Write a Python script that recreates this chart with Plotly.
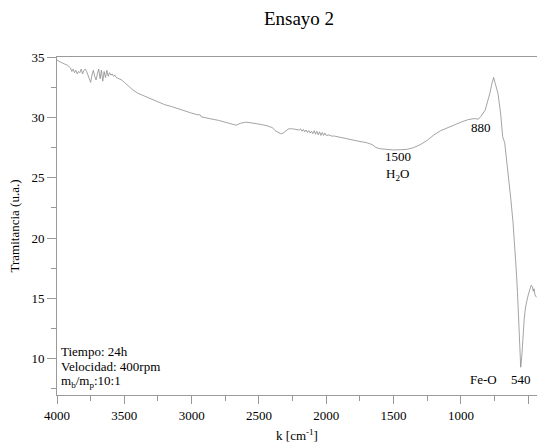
import plotly.graph_objects as go

# Wavenumber (cm^-1) and transmittance (u.a.)
k_values = [
    4000, 3980, 3960, 3940, 3920, 3900, 3890, 3880, 3870, 3860, 3850, 3840,
    3830, 3820, 3810, 3800, 3790, 3780, 3770, 3760, 3750, 3740, 3730, 3720,
    3710, 3700, 3690, 3680, 3670, 3660, 3650, 3640, 3630, 3620, 3610, 3600,
    3590, 3580, 3570, 3560, 3540, 3520, 3500, 3470, 3440, 3400, 3360, 3300,
    3250, 3200, 3150, 3100, 3050, 3000, 2950, 2940, 2930, 2900, 2870, 2800,
    2750, 2700, 2670, 2640, 2600, 2560, 2520, 2480, 2440, 2400, 2380, 2360,
    2340, 2320, 2300, 2280, 2250, 2220, 2200, 2190, 2180, 2170, 2160, 2150,
    2140, 2130, 2120, 2110, 2100, 2090, 2080, 2070, 2060, 2050, 2040, 2030,
    2020, 2010, 2000, 1980, 1960, 1940, 1900, 1850, 1800, 1750, 1700, 1660,
    1630, 1600, 1550, 1500, 1450, 1400, 1350, 1300, 1250, 1200, 1150, 1100,
    1050, 1000, 950, 900, 870, 850, 820, 800, 785, 770, 757, 745, 725, 705,
    690, 675, 650, 630, 613, 600, 590, 580, 570, 562, 556, 548, 539, 530,
    520, 510, 500, 489, 478, 470, 463, 457, 450, 440,
]
transmittance = [
    34.75, 34.6, 34.5, 34.4, 34.3, 34.1, 33.8, 34.0, 33.7, 33.9, 33.6, 33.8,
    33.7, 34.0, 33.6, 33.9, 34.0, 33.8, 33.5, 33.2, 32.9, 33.5, 33.9, 33.4,
    33.1, 33.6, 34.0, 33.2, 33.9, 33.0, 33.8, 33.3, 33.9, 33.4, 33.7, 33.5,
    33.6, 33.4, 33.5, 33.3, 33.2, 33.1, 32.9, 32.6, 32.3, 32.0, 31.8, 31.5,
    31.3, 31.05, 30.9, 30.7, 30.5, 30.35, 30.2, 30.25, 30.05, 30.0, 29.9, 29.75,
    29.6, 29.45, 29.35, 29.5, 29.6, 29.55, 29.5, 29.4, 29.3, 29.15, 28.9, 28.75,
    28.65, 28.7, 28.9, 29.05, 29.05, 29.0, 28.95, 29.05, 28.85, 29.0, 28.8, 28.95,
    28.75, 28.9, 28.7, 28.85, 28.65, 28.9, 28.6, 28.85, 28.55, 28.8, 28.5, 28.75,
    28.5, 28.7, 28.5, 28.55, 28.45, 28.45, 28.35, 28.2, 28.1, 28.0, 27.9, 27.75,
    27.5, 27.4, 27.35, 27.3, 27.32, 27.35, 27.5, 27.75, 28.1, 28.55, 28.9, 29.15,
    29.4, 29.6, 29.8, 29.9, 29.85, 30.1, 30.6, 31.3, 32.0, 32.8, 33.3, 32.8,
    32.0, 30.3, 28.4, 27.9, 25.5, 23.3, 21.3, 19.5, 17.5, 15.5, 12.5, 10.3,
    9.3, 10.2, 11.9, 13.3, 14.3, 14.9, 15.3, 15.7, 16.1, 16.0, 15.6, 15.8,
    15.3, 15.1,
]

x_ticks = [4000, 3500, 3000, 2500, 2000, 1500, 1000, 500]
y_ticks = [10, 15, 20, 25, 30, 35]

FONT = "Liberation Serif, Times New Roman, serif"
AXIS_COLOR = "#9a9a9a"

fig = go.Figure()
fig.add_trace(go.Scatter(
    x=k_values, y=transmittance, mode="lines",
    line=dict(color="#858585", width=0.75),
    showlegend=False, hoverinfo="skip",
))

# Peak labels (data coordinates)
labels = [
    (1470, 26.75, "1500"),
    (1470, 25.3, "H<sub>2</sub>O"),
    (853, 29.15, "880"),
    (831, 8.3, "Fe-O"),
    (555, 8.3, "540"),
]
for lx, ly, txt in labels:
    fig.add_annotation(x=lx, y=ly, text=txt, showarrow=False,
                       xanchor="center", yanchor="middle",
                       font=dict(family=FONT, size=13, color="black"))

# Conditions text block
info_lines = ["Tiempo: 24h", "Velocidad: 400rpm",
              "m<sub>b</sub>/m<sub>p</sub>:10:1"]
info_y = [352, 367, 382]
for txt, py in zip(info_lines, info_y):
    fig.add_annotation(x=(59 - 57) / 480, xref="paper",
                       y=(395.3 - py) / 338, yref="paper",
                       text=txt, showarrow=False,
                       xanchor="left", yanchor="middle",
                       font=dict(family=FONT, size=13, color="black"))

fig.update_layout(
    width=537, height=447,
    margin=dict(l=57, r=0, t=57, b=52),
    paper_bgcolor="white", plot_bgcolor="white",
    font=dict(family=FONT, size=13, color="black"),
    title=dict(text="Ensayo 2", x=299 / 537, xref="container", xanchor="center",
               y=1 - 18 / 447, yref="container", yanchor="middle",
               font=dict(family=FONT, size=19, color="black")),
    xaxis=dict(
        range=[4000, 435], tickvals=x_ticks,
        ticks="outside", ticklen=8, tickcolor=AXIS_COLOR, tickwidth=1,
        showline=True, linecolor=AXIS_COLOR, linewidth=1, mirror=True,
        showgrid=False, zeroline=False,
        minor=dict(dtick=250, tick0=0, ticks="outside", ticklen=5,
                   tickcolor=AXIS_COLOR, showgrid=False),
        title=dict(text="k [cm<sup>-1</sup>]", standoff=9,
                   font=dict(family=FONT, size=13)),
        tickfont=dict(family=FONT, size=13),
    ),
    yaxis=dict(
        range=[7, 35], tickvals=y_ticks,
        ticks="outside", ticklen=9, tickcolor=AXIS_COLOR, tickwidth=1,
        showline=True, linecolor=AXIS_COLOR, linewidth=1, mirror=False,
        showgrid=False, zeroline=False,
        minor=dict(dtick=2.5, tick0=0, ticks="outside", ticklen=5,
                   tickcolor=AXIS_COLOR, showgrid=False),
        title=dict(text="Tramitancia (u.a.)", standoff=8,
                   font=dict(family=FONT, size=13)),
        tickfont=dict(family=FONT, size=13),
    ),
)

fig.write_html("out.html")
